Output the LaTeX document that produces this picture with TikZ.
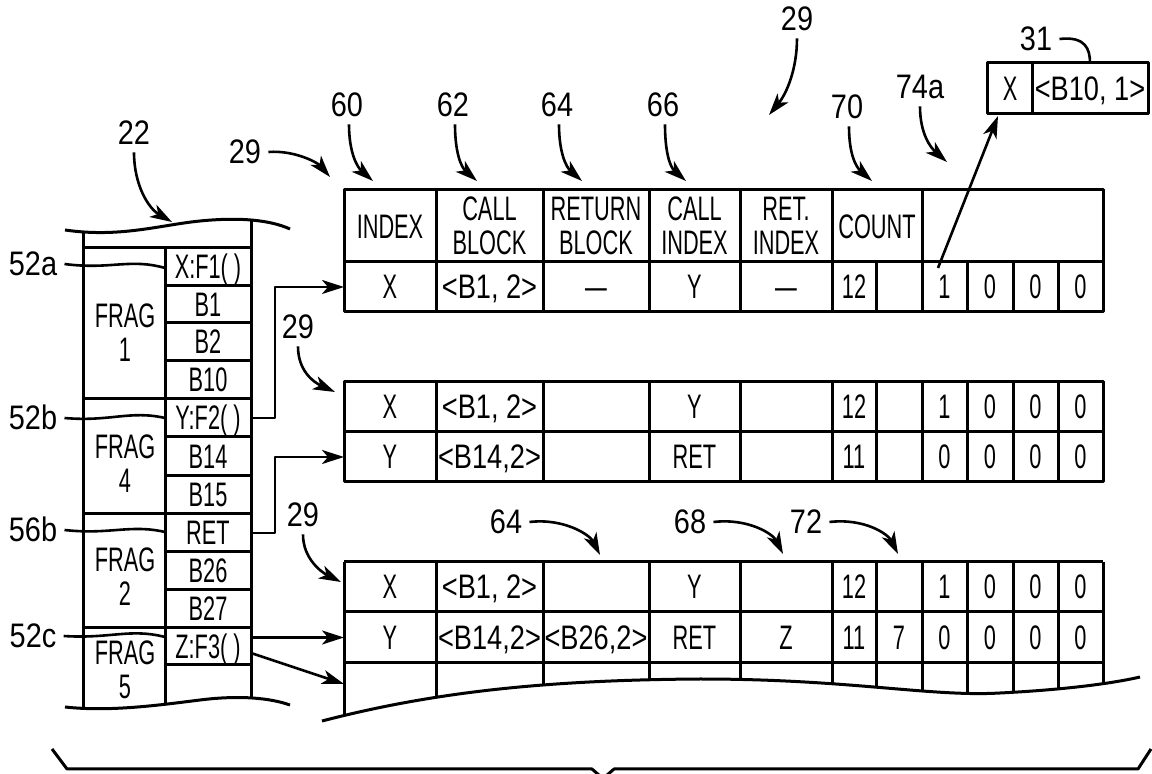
\documentclass[tikz,border=0pt]{standalone}
\usepackage{fontspec}
\setmainfont{Liberation Sans}[FakeStretch=0.64]
\newfontfamily\labfont{Liberation Sans}[FakeStretch=0.85]
\newfontfamily\widefont{Liberation Sans}[FakeStretch=0.8]
\usetikzlibrary{arrows.meta}
\newcommand\tblrow[3]{%
  \foreach \t [count=\i] in {#3}{%
    \pgfmathsetmacro\cx{{390,489.5,596,694.5,786,854,899,944.5,990,1035.5,1080.5}[\i-1]}%
    \node[cell] (#1\i) at (\cx,#2) {\t};}}
\newcommand\wtxt[1]{{\widefont #1}}
\begin{document}
\begin{tikzpicture}[x=0.5pt,y=-0.5pt,line join=round,
  cell/.style={font=\fontsize{17}{17}\selectfont,inner sep=0pt,text height=12pt,text depth=0pt},
  hdr/.style={font=\fontsize{17}{17}\selectfont,inner sep=0pt,align=center},
  lab/.style={font=\labfont\fontsize{17}{17}\selectfont,inner sep=3.5pt,text height=12pt,text depth=0pt},
  grid/.style={line width=1.5pt},
  lead/.style={line width=1.3pt},
  arr/.style={line width=1.3pt,-{Stealth[length=11pt,width=7pt,inset=3pt]}}]
\useasboundingbox (0,0) rectangle (1152,774);

% ---------------- left column (22) ----------------
\draw[grid] (65,230) .. controls (120,238) and (160,225) .. (200,221) .. controls (240,217) and (270,220) .. (290,229);
\draw[grid] (65,707) .. controls (110,712) and (160,705) .. (200,700) .. controls (240,695) and (270,698) .. (290,705);
\draw[grid] (83,231) -- (83,709);
\draw[grid] (251,219) -- (251,698);
\draw[grid] (165,248) -- (165,704);
\draw[grid] (83,248) -- (251,248);
\foreach \y in {399,514,628} \draw[grid] (83,\y) -- (251,\y);
\foreach \y in {286,323,361,437,476,552,590,665} \draw[grid] (165,\y) -- (251,\y);

\node[cell] (xf1) at (208,267) {X:F1( )};
\node[cell] (b1) at (208,305) {B1};
\node[cell] (b2) at (208,342) {B2};
\node[cell] (b10) at (208,380) {B10};
\node[cell] (yf2) at (208,418) {Y:F2( )};
\node[cell] (b14) at (208,457) {B14};
\node[cell] (b15) at (208,495) {B15};
\node[cell] (ret) at (208,533) {RET};
\node[cell] (b26) at (208,571) {B26};
\node[cell] (b27) at (208,609) {B27};
\node[cell] (zf3) at (208,647) {Z:F3( )};

\node[hdr] (fr1) at (125,333) {FRAG\\1};
\node[hdr] (fr4) at (125,464) {FRAG\\4};
\node[hdr] (fr2) at (125,577) {FRAG\\2};
\node[hdr] (fr5) at (125,670) {FRAG\\5};

\node[lab] (l52a) at (33,264) {52a};
\node[lab] (l52b) at (33,418) {52b};
\node[lab] (l56b) at (33,530) {56b};
\node[lab] (l52c) at (33,636) {52c};
\draw[lead] (l52a.east) .. controls (110,270) and (130,258) .. (165,268);
\draw[lead] (l52b.east) .. controls (110,422) and (130,410) .. (165,418);
\draw[lead] (l56b.east) .. controls (110,535) and (130,524) .. (165,532);
\draw[lead] (l52c.east) .. controls (110,639) and (130,628) .. (165,637);

\node[lab] (l22) at (134,133) {22};
\coordinate (p22) at (172,222);
\draw[arr] (l22.south) .. controls +(0,32) and +(-24,-14) .. (p22);

% ---------------- table 1 ----------------
\draw[grid] (344,190) rectangle (1103,312);
\draw[grid] (344,262) -- (1103,262);
\foreach \x in {436,543,649,740,832,922} \draw[grid] (\x,190) -- (\x,312);
\foreach \x in {876,967,1013,1058} \draw[grid] (\x,262) -- (\x,312);
\node[hdr] (h1) at (390,227) {INDEX};
\node[hdr] (h2) at (489.5,226) {CALL\\BLOCK};
\node[hdr] (h3) at (596,226) {RETURN\\BLOCK};
\node[hdr] (h4) at (694.5,226) {CALL\\INDEX};
\node[hdr] (h5) at (786,226) {RET.\\INDEX};
\node[hdr] (h6) at (877,227) {COUNT};
\tblrow{ta}{287}{X,{\wtxt{<B1, 2>}},—,Y,—,12,{},1,0,0,0}

% ---------------- table 2 ----------------
\draw[grid] (344,382) rectangle (1103,482);
\draw[grid] (344,432) -- (1103,432);
\foreach \x in {436,543,649,740,832,876,922,967,1013,1058} \draw[grid] (\x,382) -- (\x,482);
\tblrow{tb}{407}{X,{\wtxt{<B1, 2>}},{},Y,{},12,{},1,0,0,0}
\tblrow{tc}{457}{Y,{\wtxt{<B14,2>}},{},RET,{},11,{},0,0,0,0}

% ---------------- table 3 ----------------
\draw[grid] (344,562) -- (1103,562);
\draw[grid] (344,612) -- (1103,612);
\draw[grid] (344,663) -- (1103,663);
\begin{scope}
\clip (322,721) .. controls (430,693) and (540,680) .. (700,679) .. controls (850,679) and (930,697) .. (1000,693) .. controls (1060,690) and (1110,684) .. (1140,677) -- (1140,540) -- (322,540) -- cycle;
\foreach \x in {344,436,543,649,740,832,876,922,967,1013,1058,1103} \draw[grid] (\x,562) -- (\x,740);
\end{scope}
\draw[grid] (322,721) .. controls (430,693) and (540,680) .. (700,679) .. controls (850,679) and (930,697) .. (1000,693) .. controls (1060,690) and (1110,684) .. (1140,677);
\tblrow{td}{587}{X,{\wtxt{<B1, 2>}},{},Y,{},12,{},1,0,0,0}
\tblrow{te}{637.5}{Y,{\wtxt{<B14,2>}},{\wtxt{<B26,2>}},RET,Z,11,7,0,0,0,0}

% ---------------- connectors from column ----------------
\coordinate (t1in) at (344,287);
\coordinate (t2in) at (344,457);
\coordinate (t3in) at (344,637.5);
\coordinate (t3low) at (344,684);
\coordinate (yf2r) at (251,418);
\coordinate (retr) at (251,533);
\coordinate (zf3r) at (251,637.5);
\coordinate (zf3d) at (251,653);
\draw[arr] (yf2r) -- (275,418) |- (t1in);
\draw[arr] (retr) -- (275,533) |- (t2in);
\draw[arr] (zf3r) -- (t3in);
\draw[arr] (zf3d) -- (t3low);

% ---------------- reference labels ----------------
\node[lab] (l29a) at (245,152) {29};
\coordinate (p29a) at (330,177);
\draw[arr] (l29a.east) .. controls (295,150) and (318,163) .. (p29a);

\node[lab] (l60) at (347,105) {60};
\node[lab] (l62) at (453,105) {62};
\node[lab] (l64) at (557,105) {64};
\node[lab] (l66) at (663,105) {66};
\node[lab] (l70) at (847,107) {70};
\coordinate (p60) at (373,181);
\coordinate (p62) at (477,181);
\coordinate (p64) at (582,181);
\coordinate (p66) at (686,181);
\coordinate (p70) at (872,181);
\foreach \n in {60,62,64,66,70}
  \draw[arr] ([xshift=1pt]l\n.south) .. controls +(0,28) and +(-16,-14) .. (p\n);

\node[lab] (l29top) at (797,19) {29};
\coordinate (p29top) at (769,115);
\draw[arr] (l29top.south) .. controls +(0,30) and +(18,-22) .. (p29top);

\node[lab] (l74a) at (920,87) {74a};
\coordinate (p74a) at (947,162);
\draw[arr] (l74a.south) .. controls +(0,28) and +(-16,-14) .. (p74a);

\node[lab] (l29b) at (298,327) {29};
\coordinate (p29b) at (335,392);
\draw[arr] (l29b.south) .. controls +(0,24) and +(-22,-10) .. (p29b);

\node[lab] (l29c) at (303,515) {29};
\coordinate (p29c) at (341,582);
\draw[arr] (l29c.south) .. controls +(0,24) and +(-20,-10) .. (p29c);

\node[lab] (l64b) at (506,522) {64};
\node[lab] (l68) at (690,522) {68};
\node[lab] (l72) at (806,522) {72};
\coordinate (p64b) at (600,555);
\coordinate (p68) at (783,554);
\coordinate (p72) at (898,554);
\draw[arr] (l64b.east) .. controls +(35,-4) and +(-10,-20) .. (p64b);
\draw[arr] (l68.east) .. controls +(35,-4) and +(-10,-20) .. (p68);
\draw[arr] (l72.east) .. controls +(35,-4) and +(-10,-20) .. (p72);

% ---------------- box 31 ----------------
\draw[grid] (987,63) rectangle (1148,114);
\draw[grid] (1032,63) -- (1032,114);
\node[cell] (bx) at (1010,89) {X};
\node[cell] (bb) at (1090,89) {\wtxt{<B10, 1>}};
\node[lab] (l31) at (1036,39) {31};
\coordinate (b31top) at (1090,63);
\draw[lead] (l31.east) .. controls +(26,-3) and +(0,-14) .. (b31top);
\coordinate (one) at (938,268);
\coordinate (b31bot) at (998,116);
\draw[arr] (one) -- (b31bot);

% ---------------- brace ----------------
\draw[grid] (52,749) -- (67,769) -- (592,769) -- (600,776);
\draw[grid] (606,776) -- (614,769) -- (1138,769) -- (1151,749);
\end{tikzpicture}
\end{document}
